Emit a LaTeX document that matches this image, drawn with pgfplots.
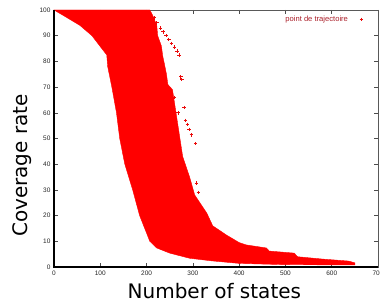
\documentclass[border=0pt]{standalone}
\usepackage{pgfplots}
\pgfplotsset{compat=1.18}
\usepackage{fontspec}
\setmainfont{Liberation Sans}
\newfontfamily\labelfont{DejaVu Sans}
\definecolor{legred}{RGB}{170,30,40}
\definecolor{markred}{RGB}{235,10,10}
\begin{document}
\begin{tikzpicture}
\useasboundingbox (-54pt,-37pt) rectangle (326pt,267pt);
\begin{axis}[
  at={(0,0)}, anchor=south west,
  scale only axis, width=324pt, height=257pt,
  xmin=0, xmax=700, ymin=0, ymax=100,
  xtick={0,100,...,700}, ytick={0,10,...,100},
  tick align=inside, major tick length=4pt,
  tick style={black!70, line width=0.5pt},
  axis line style={black!65, line width=0.6pt},
  ticklabel style={font=\fontsize{6.5}{7}\selectfont, text=black!85},
  /pgf/number format/assume math mode=true,
  xlabel={Number of states}, ylabel={Coverage rate},
  label style={font=\labelfont\fontsize{20}{24}\selectfont},
  xlabel style={at={(axis description cs:0.495,-0.1245)}, anchor=base},
  ylabel style={at={(axis description cs:-0.0833,0.395)}, anchor=base},
  legend style={draw=none, fill=none, at={(rel axis cs:0.957,0.982)}, anchor=north east,
    font=\fontsize{7.6}{8}\selectfont, text=legred, inner sep=0pt,
    nodes={inner sep=1pt}},
  legend plot pos=right,
  legend image code/.code={
    \path (0pt,0pt) (14pt,0pt);
    \draw[mark=+, mark size=1.8pt, markred, line width=0.8pt] plot coordinates {(12pt,0pt)};
  },
  clip=false,
]
\addplot[fill=red, draw=red, line width=0.4pt, forget plot] coordinates {
  (0,100) (207,100) (213,98) (222,94) (224,90) (232,86) (235,82) (239,78.6)
  (243,75) (246,71) (256,69) (267,56) (278,43) (293,35) (304,28) (330,21)
  (343,16) (372,12.5) (400,9.5) (415,8.6) (459,7.4) (465,6.2) (519,5.4)
  (526,4.0) (579,3.1) (637,2.3) (650,1.6) (650,0.8) (500,0.9) (400,1.4)
  (340,2.4) (293,3.4) (250,5.4) (222,7.4) (207,10) (185,20) (170,30)
  (153,40) (142,50) (135,60) (125,70) (116,78) (114,82.5) (99,86) (82,90)
  (56,94) (19,98) (0,100)
} -- cycle;
\addplot[only marks, mark=+, markred, mark size=1.8pt, line width=0.9pt] coordinates {
  (216,97) (222,95) (230,93) (236,91.5) (242,90) (248,88.5) (254,87) (260,85.5)
  (266,84) (270,82.5) (274,74) (276,73) (281,62) (284,57) (288,55.5) (292,53.5)
  (297,51.4) (306,48) (308,32.7) (312,29) (260,66) (268,60)
};
\addlegendentry{point de trajectoire}
\draw[black, line width=1.6pt] (rel axis cs:0,1) -- (rel axis cs:0,0) -- (rel axis cs:1,0);
\end{axis}
\end{tikzpicture}
\end{document}
